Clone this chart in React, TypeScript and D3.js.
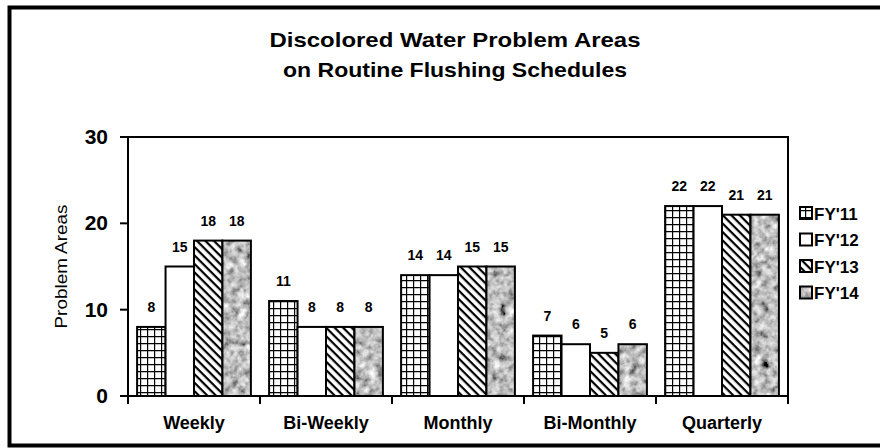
import React from "react";
import * as d3 from "d3";

const categories = ["Weekly", "Bi-Weekly", "Monthly", "Bi-Monthly", "Quarterly"];
const seriesNames = ["FY'11", "FY'12", "FY'13", "FY'14"];
const fy11 = [8, 11, 14, 7, 22];
const fy12 = [15, 8, 14, 6, 22];
const fy13 = [18, 8, 15, 5, 21];
const fy14 = [18, 8, 15, 6, 21];
const yTicks = [0, 10, 20, 30];
const titleLines = ["Discolored Water Problem Areas", "on Routine Flushing Schedules"];
const yAxisTitle = "Problem Areas";

const seriesValues = [fy11, fy12, fy13, fy14];
const fills = ["url(#grid)", "#ffffff", "url(#diag)", "granite"];

const W = 880;
const H = 448;
const plot = { left: 128, right: 788, top: 137, bottom: 396 };
const font = "Arial, 'Liberation Sans', sans-serif";

export default function App() {
  const x0 = d3.scaleBand<string>().domain(categories).range([plot.left, plot.right]).padding(0);
  const x1 = d3
    .scaleBand<string>()
    .domain(seriesNames)
    .range([0, x0.bandwidth()])
    .paddingInner(0)
    .paddingOuter(0.32);
  const y = d3.scaleLinear().domain([0, 30]).range([plot.bottom, plot.top]);

  const bars: any[] = [];
  categories.forEach((c, ci) => {
    seriesNames.forEach((s, si) => {
      const v = seriesValues[si][ci];
      bars.push({ c, s, si, v, x: (x0(c) as number) + (x1(s) as number), w: x1.bandwidth(), y: y(v), h: y(0) - y(v) });
    });
  });

  const boundaries = categories.map((c) => x0(c) as number).concat([plot.right]);
  const legendY = [213, 239.5, 266, 292.5];
  const titleLen = [371, 344];

  return (
    <svg width={W} height={H} style={{ position: "absolute", left: 0, top: 0 }} fontFamily={font}>
      <defs>
        <pattern id="grid" width={7} height={7} patternUnits="userSpaceOnUse">
          <rect width={7} height={7} fill="#fff" />
          <path d="M0,0.6 H7 M0.6,0 V7" stroke="#000" strokeWidth={1.2} />
        </pattern>
        <pattern id="diag" width={6} height={6} patternUnits="userSpaceOnUse" patternTransform="rotate(45)">
          <rect width={6} height={6} fill="#fff" />
          <rect x={0} y={0} width={6} height={2.2} fill="#000" />
        </pattern>
        <filter id="graniteF" x="0" y="0" width="100%" height="100%">
          <feTurbulence type="fractalNoise" baseFrequency="0.13" numOctaves={3} seed={7} result="noise" />
          <feColorMatrix
            in="noise"
            type="matrix"
            values="0.33 0.33 0.33 0 0  0.33 0.33 0.33 0 0  0.33 0.33 0.33 0 0  0 0 0 0 1"
            result="gray"
          />
          <feComponentTransfer in="gray" result="adj">
            <feFuncR type="linear" slope="2.3" intercept="-0.62" />
            <feFuncG type="linear" slope="2.3" intercept="-0.62" />
            <feFuncB type="linear" slope="2.3" intercept="-0.62" />
          </feComponentTransfer>
          <feComposite in="adj" in2="SourceGraphic" operator="in" />
        </filter>
      </defs>

      <rect x={0} y={0} width={W} height={H} fill="#fff" />
      {/* outer chart border */}
      <rect x={9.5} y={7.5} width={W + 10} height={438} fill="none" stroke="#000" strokeWidth={4} />

      {/* title */}
      {titleLines.map((t, i) => (
        <text
          key={t}
          x={455}
          y={47 + i * 30}
          textAnchor="middle"
          fontWeight="bold"
          fontSize={20.5}
          textLength={titleLen[i]}
          lengthAdjust="spacingAndGlyphs"
        >
          {t}
        </text>
      ))}

      {/* plot frame */}
      <rect
        x={plot.left}
        y={plot.top}
        width={plot.right - plot.left}
        height={plot.bottom - plot.top}
        fill="none"
        stroke="#000"
        strokeWidth={2}
      />

      {/* bars */}
      {bars.map((b) =>
        fills[b.si] === "granite" ? (
          <g key={b.c + b.s}>
            <rect x={b.x} y={b.y} width={b.w} height={b.h} fill="#888" filter="url(#graniteF)" />
            <rect x={b.x} y={b.y} width={b.w} height={b.h} fill="none" stroke="#000" strokeWidth={2} />
          </g>
        ) : (
          <rect key={b.c + b.s} x={b.x} y={b.y} width={b.w} height={b.h} fill={fills[b.si]} stroke="#000" strokeWidth={2} />
        )
      )}

      {/* value labels */}
      {bars.map((b) => (
        <text key={"l" + b.c + b.s} x={b.x + b.w / 2} y={b.y - 15} textAnchor="middle" fontSize={14} fontWeight="bold">
          {b.v}
        </text>
      ))}

      {/* y axis ticks */}
      {yTicks.map((t) => (
        <g key={t}>
          <line x1={plot.left - 8} x2={plot.left} y1={y(t)} y2={y(t)} stroke="#000" strokeWidth={2} />
          <text x={108} y={y(t) + 7} textAnchor="end" fontSize={21} fontWeight="bold">
            {t}
          </text>
        </g>
      ))}

      {/* x axis ticks */}
      {boundaries.map((bx, i) => (
        <line key={i} x1={bx} x2={bx} y1={plot.bottom} y2={plot.bottom + 8} stroke="#000" strokeWidth={2} />
      ))}
      {categories.map((c) => (
        <text key={c} x={(x0(c) as number) + x0.bandwidth() / 2} y={429} textAnchor="middle" fontWeight="bold" fontSize={18}>
          {c}
        </text>
      ))}

      {/* y axis title */}
      <text
        transform={`translate(67,${(plot.top + plot.bottom) / 2}) rotate(-90)`}
        textAnchor="middle"
        fontSize={17}
        textLength={124}
        lengthAdjust="spacingAndGlyphs"
      >
        {yAxisTitle}
      </text>

      {/* legend */}
      {seriesNames.map((s, i) => (
        <g key={s}>
          {fills[i] === "granite" ? (
            <rect x={800} y={legendY[i] - 6} width={12} height={12} fill="#999" filter="url(#graniteF)" />
          ) : null}
          <rect
            x={800}
            y={legendY[i] - 6}
            width={12}
            height={12}
            fill={fills[i] === "granite" ? "none" : fills[i]}
            stroke="#000"
            strokeWidth={2}
          />
          <text x={814} y={legendY[i] + 6.5} fontSize={17} fontWeight="bold">
            {s}
          </text>
        </g>
      ))}
    </svg>
  );
}
